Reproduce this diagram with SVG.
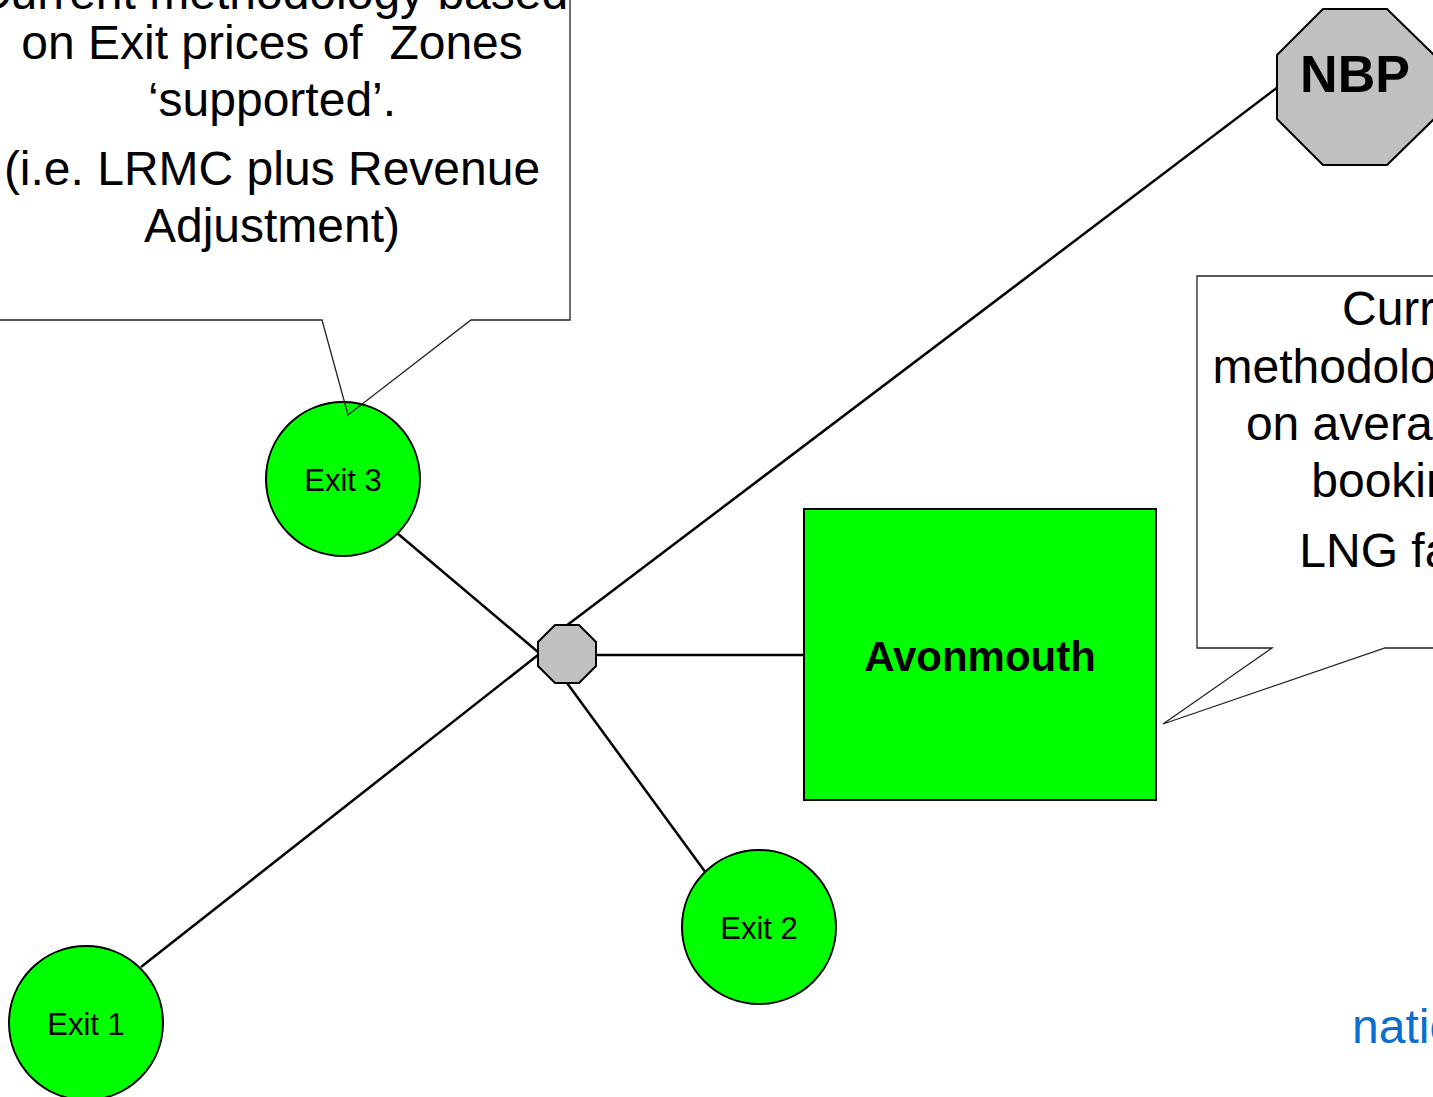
<svg xmlns="http://www.w3.org/2000/svg" width="1433" height="1097" viewBox="0 0 1433 1097">
<style>
.callout{fill:none;stroke:#222;stroke-width:1.3;stroke-linejoin:miter}
.ct{font-family:"Liberation Sans",Arial,sans-serif;font-size:48px;fill:#000;white-space:pre}
.conn{stroke:#000;stroke-width:2.5;fill:none}
.exit{fill:#00ff00;stroke:#000;stroke-width:2}
.oct{fill:#c0c0c0;stroke:#000;stroke-width:2}
.lbl{font-family:"Liberation Sans",Arial,sans-serif;font-size:31px;fill:#000;text-anchor:middle}
.bold{font-family:"Liberation Sans",Arial,sans-serif;font-weight:bold;fill:#000;text-anchor:middle}
</style>
<rect width="1433" height="1097" fill="#ffffff"/>
<g id="connectors">
<line class="conn" x1="566" y1="626" x2="1278" y2="87"/>
<line class="conn" x1="141" y1="967" x2="538" y2="655"/>
<line class="conn" x1="397" y1="533" x2="538" y2="652"/>
<line class="conn" x1="596" y1="655" x2="804" y2="655"/>
<line class="conn" x1="567" y1="683" x2="706" y2="873"/>
</g>
<g id="node-nbp">
<polygon class="oct" points="1323,9 1387,9 1434,55 1434,119 1387,165 1323,165 1277,119 1277,55"/>
<text class="bold" x="1355" y="92" font-size="52">NBP</text>
</g>
<g id="node-hub">
<polygon class="oct" points="555,625 579,625 596,642 596,666 579,683 555,683 538,666 538,642"/>
</g>
<g id="node-avonmouth">
<rect x="804" y="509" width="352" height="291" fill="#00ff00" stroke="#000" stroke-width="2"/>
<text class="bold" x="980" y="671" font-size="42">Avonmouth</text>
</g>
<g id="node-exit3">
<circle class="exit" cx="343" cy="479" r="77"/>
<text class="lbl" x="343" y="491">Exit 3</text>
</g>
<g id="node-exit2">
<circle class="exit" cx="759" cy="927" r="77"/>
<text class="lbl" x="759" y="939">Exit 2</text>
</g>
<g id="node-exit1">
<circle class="exit" cx="86" cy="1023" r="77"/>
<text class="lbl" x="86" y="1035">Exit 1</text>
</g>
<g id="callout-left">
<path class="callout" d="M-10,-10 L570,-10 L570,320 L471,320 L348,415 L322,320 L-10,320 Z"/>
<text class="ct" text-anchor="middle" x="272" y="9">Current methodology based</text>
<text class="ct" text-anchor="middle" x="272" y="59" xml:space="preserve">on Exit prices of  Zones</text>
<text class="ct" text-anchor="middle" x="272" y="116">‘supported’.</text>
<text class="ct" text-anchor="middle" x="272" y="185">(i.e. LRMC plus Revenue</text>
<text class="ct" text-anchor="middle" x="272" y="242">Adjustment)</text>
</g>
<g id="callout-right">
<path class="callout" d="M1197,276 L1445,276 L1445,648 L1385,648 L1163,724 L1272,648 L1197,648 Z"/>
<text class="ct" text-anchor="middle" x="1422" y="325">Current</text>
<text class="ct" text-anchor="middle" x="1422" y="383">methodology based</text>
<text class="ct" text-anchor="middle" x="1422" y="440">on average daily</text>
<text class="ct" text-anchor="middle" x="1422" y="497">booking at</text>
<text class="ct" text-anchor="middle" x="1422" y="567">LNG facility</text>
</g>
<g id="logo">
<text x="1352" y="1043" font-family="'Liberation Sans',Arial,sans-serif" font-size="48" fill="#0c6fce">national grid</text>
</g>
</svg>
